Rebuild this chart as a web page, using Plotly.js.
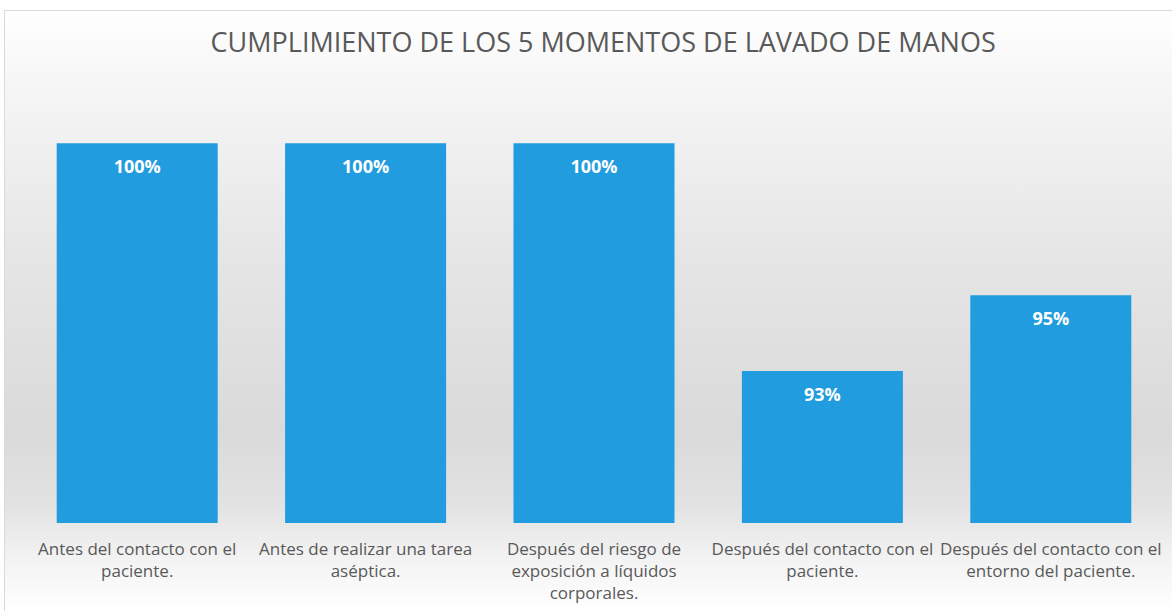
<!DOCTYPE html>
<html>
<head>
<meta charset="utf-8">
<script src="https://cdn.plot.ly/plotly-3.0.1.min.js"></script>
<style>
  html, body { margin: 0; padding: 0; background: #ffffff; }
  #frame {
    position: absolute; left: 4px; top: 10px; width: 1168px; height: 601px;
    border-left: 1px solid #d9d9d9; border-top: 1px solid #d9d9d9; box-sizing: border-box;
    background: linear-gradient(to bottom, #ffffff 0%, #f6f6f6 12%, #e6e6e6 40%, #dadada 70%, #e2e2e2 82%, #f4f4f4 92%, #ffffff 100%);
  }
  #chart { position: absolute; left: 0; top: 0; width: 1172px; height: 611px; }
</style>
</head>
<body>
<div id="frame"></div>
<div id="chart"></div>
<script>
const categories = [
  "Antes del contacto con el<br>paciente.",
  "Antes de realizar una tarea<br>aséptica.",
  "Después del riesgo de<br>exposición a líquidos<br>corporales.",
  "Después del contacto con el<br>paciente.",
  "Después del contacto con el<br>entorno del paciente."
];
const values = [100, 100, 100, 92.8, 95.2];
const chartTitle = "CUMPLIMIENTO DE LOS 5 MOMENTOS DE LAVADO DE MANOS";

const trace = {
  type: "bar",
  x: categories,
  y: values,
  marker: { color: "#219cdf", line: { width: 0 } },
  text: values.map(v => "<span style='font-size:3px'> </span><br>" + Math.round(v) + "%"),
  texttemplate: "%{text}",
  textposition: "inside",
  insidetextanchor: "end",
  textfont: { family: "Open Sans, sans-serif", size: 18, color: "#ffffff", weight: "bold" },
  cliponaxis: false,
  hoverinfo: "skip"
};

const layout = {
  width: 1172, height: 611,
  margin: { l: 23, r: 7, t: 80, b: 88 },
  paper_bgcolor: "rgba(0,0,0,0)",
  plot_bgcolor: "rgba(0,0,0,0)",
  bargap: 0.295,
  showlegend: false,
  title: {
    text: chartTitle,
    x: 0.508, xref: "paper", xanchor: "center",
    y: 0.93, yref: "container", yanchor: "middle",
    font: { family: "Open Sans, sans-serif", size: 27, color: "#595959" }
  },
  xaxis: {
    type: "category",
    showgrid: false, zeroline: false, showline: false,
    ticks: "", ticklen: 0,
    ticklabelstandoff: 14,
    tickfont: { family: "Open Sans, sans-serif", size: 17, color: "#595959" },
    automargin: false
  },
  yaxis: {
    range: [88, 102],
    visible: false,
    showgrid: false, zeroline: false
  },
  font: { family: "Open Sans, sans-serif" }
};

Plotly.newPlot("chart", [trace], layout, { displayModeBar: false, staticPlot: true });
</script>
</body>
</html>
